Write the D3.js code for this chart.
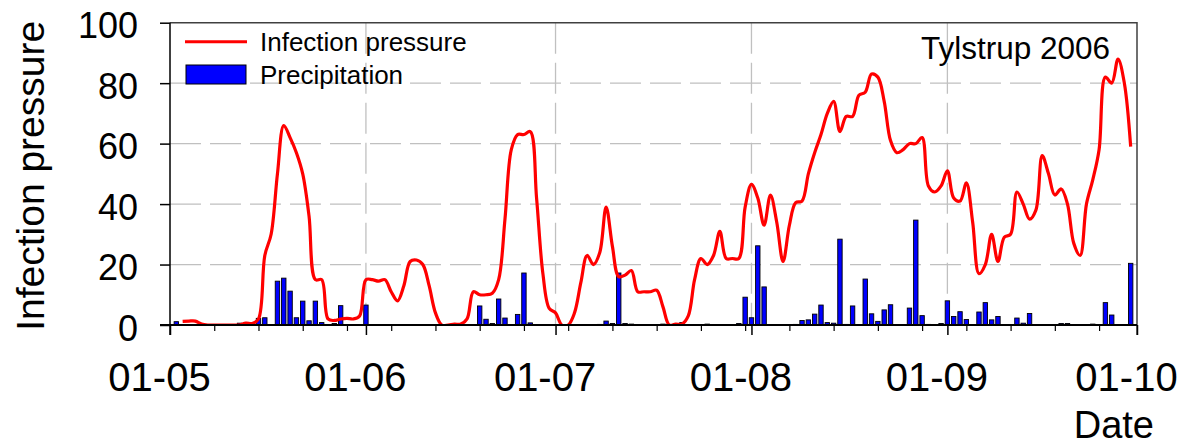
<!DOCTYPE html>
<html>
<head>
<meta charset="utf-8">
<script src="https://cdn.jsdelivr.net/npm/d3@7"></script>
<style>
  html, body { margin: 0; padding: 0; background: #fff; }
  svg { display: block; font-family: "Liberation Sans", Arial, sans-serif; }
</style>
</head>
<body>
<svg id="chart" width="1180" height="447"></svg>
<script>
// Infection pressure, daily values from 3 May to 30 Sep 2006
const pressureStart = "2006-05-03";
const pressure = [
  1.2, 1.3, 1.3, 0.3, 0, 0, 0, 0, 0, 0, 0.6, 0.5, 2, 23, 30, 50, 66, 62, 57, 50,
  36, 15, 15, 2, 1.5, 2, 2.2, 2, 3, 15, 15, 14.5, 15, 11, 8, 13, 21, 21.5, 20, 13,
  4, 0, 0, 0.3, 0.3, 2, 11, 10, 10, 10.5, 15, 35, 58, 63, 63, 64, 42, 17, 5.5, 4,
  0, 0, 4, 14, 23, 20, 24, 39, 26, 16, 16.5, 18, 11, 11, 11, 11.5, 6, 0, 0.3, 0.3,
  3, 15, 22, 20, 23, 31, 22, 22, 22, 39, 46.5, 42, 33, 43, 34, 21, 33, 40.5, 41, 50,
  57, 63, 70, 74, 64, 69, 69, 76, 77, 83, 82, 74, 61, 57, 58, 60, 60, 62, 46, 44,
  46, 51, 42, 41, 47, 34, 17, 20, 30, 21, 29, 30, 44, 40, 35, 38, 56, 50, 43, 45,
  40, 27, 23, 40, 48, 58, 82, 80, 88, 80, 59
];

// Daily precipitation (days with rain only)
const rainDates = [
  "2006-05-02", "2006-05-12", "2006-05-15", "2006-05-16", "2006-05-18", "2006-05-19",
  "2006-05-20", "2006-05-21", "2006-05-22", "2006-05-23", "2006-05-24", "2006-05-25",
  "2006-05-27", "2006-05-28", "2006-06-01", "2006-06-19", "2006-06-20", "2006-06-21",
  "2006-06-22", "2006-06-23", "2006-06-25", "2006-06-26", "2006-06-27", "2006-07-08",
  "2006-07-09", "2006-07-10", "2006-07-11", "2006-07-12", "2006-07-13", "2006-07-18",
  "2006-07-21", "2006-07-25", "2006-07-30", "2006-07-31", "2006-08-01", "2006-08-02",
  "2006-08-03", "2006-08-08", "2006-08-09", "2006-08-10", "2006-08-11", "2006-08-12",
  "2006-08-13", "2006-08-14", "2006-08-15", "2006-08-16", "2006-08-17", "2006-08-19",
  "2006-08-20", "2006-08-21", "2006-08-22", "2006-08-23", "2006-08-26", "2006-08-27",
  "2006-08-28", "2006-08-29", "2006-08-31", "2006-09-01", "2006-09-02", "2006-09-03",
  "2006-09-04", "2006-09-06", "2006-09-07", "2006-09-08", "2006-09-09", "2006-09-12",
  "2006-09-13", "2006-09-14", "2006-09-19", "2006-09-20", "2006-09-24", "2006-09-26",
  "2006-09-27", "2006-09-30"
];
const rainValues = [
  1.1, 0.6, 2.2, 2.4, 14.5, 15.5,
  11.2, 2.4, 7.9, 1.4, 7.9, 0.8,
  0.5, 6.4, 6.6, 6.3, 1.9, 0.5,
  8.6, 2.3, 3.5, 17.2, 0.7, 0.2,
  1.3, 0.5, 17.2, 0.5, 0.3, 0.3,
  0.8, 0.3, 0.5, 9.2, 2.4, 26.2,
  12.6, 0.2, 1.5, 1.7, 3.6, 6.6,
  0.8, 0.6, 28.4, 0.2, 6.3, 15.2,
  3.7, 1.2, 5, 6.7, 5.6, 34.7,
  3.1, 0.2, 0.5, 8, 2.8, 4.4,
  1.8, 4.3, 7.4, 1.7, 2.8, 2.3,
  0.6, 3.8, 0.5, 0.5, 0.3, 7.4,
  3.3, 20.4
];

const xDomain = ["2006-05-01", "2006-10-01"];
const monthTicks = ["2006-05-01", "2006-06-01", "2006-07-01", "2006-08-01", "2006-09-01", "2006-10-01"];
const yTicks = [0, 20, 40, 60, 80, 100];
const yGridTicks = [20, 40, 60, 80];

const parse = d3.utcParse("%Y-%m-%d");
const fmt = d3.utcFormat("%d-%m");

const svg = d3.select("#chart");
const plotL = 170, plotR = 1137, plotT = 22.7, plotB = 325;

const x = d3.scaleUtc().domain(xDomain.map(parse)).range([plotL, plotR]);
const y = d3.scaleLinear().domain([0, 100]).range([plotB, plotT]);

const t0 = parse(pressureStart);
const pressureData = pressure.map((v, i) => ({ date: d3.utcDay.offset(t0, i), value: v }));
const rainData = rainDates.map((d, i) => ({ date: parse(d), value: rainValues[i] }));

svg.append("defs").append("clipPath").attr("id", "plotClip")
  .append("rect").attr("x", plotL).attr("y", plotT).attr("width", plotR - plotL).attr("height", plotB - plotT);

// grid
const grid = svg.append("g").attr("stroke", "#c0c0c0").attr("stroke-width", 1.3).attr("stroke-dasharray", "31 9");
grid.selectAll("line.h").data(yGridTicks).join("line").attr("class", "h")
  .attr("x1", plotL).attr("x2", plotR).attr("y1", d => y(d)).attr("y2", d => y(d));
grid.selectAll("line.v").data(monthTicks.slice(1, -1).map(parse)).join("line").attr("class", "v")
  .attr("x1", d => x(d)).attr("x2", d => x(d)).attr("y1", plotT).attr("y2", plotB);

// frame (top and right)
svg.append("path")
  .attr("d", `M${plotL},${plotT}H${plotR}V${plotB + 10}`)
  .attr("fill", "none").attr("stroke", "#404040").attr("stroke-width", 1.5);

// precipitation bars
const barW = 4.4;
svg.append("g").attr("clip-path", "url(#plotClip)")
  .selectAll("rect").data(rainData).join("rect")
  .attr("x", d => x(d.date) - barW / 2)
  .attr("y", d => y(d.value))
  .attr("width", barW)
  .attr("height", d => y(0) - y(d.value))
  .attr("fill", "#0000ff")
  .attr("stroke", "#000")
  .attr("stroke-width", 0.9);

// infection pressure line
const line = d3.line()
  .x(d => x(d.date))
  .y(d => y(d.value))
  .curve(d3.curveCatmullRom.alpha(0.5));
svg.append("path")
  .datum(pressureData)
  .attr("clip-path", "url(#plotClip)")
  .attr("d", line)
  .attr("fill", "none")
  .attr("stroke", "#ff0000")
  .attr("stroke-width", 3.2)
  .attr("stroke-linejoin", "round");

// x axis: weekly minor ticks, monthly major ticks
const xMinor = d3.axisBottom(x)
  .tickValues(d3.utcMonday.range(parse("2006-05-02"), parse("2006-09-30")))
  .tickSize(6).tickFormat("");
const gxMinor = svg.append("g").attr("transform", `translate(0,${plotB})`).call(xMinor);
gxMinor.select(".domain").remove();
gxMinor.selectAll("line").attr("stroke", "#000").attr("stroke-width", 1.2);

const xMajor = d3.axisBottom(x)
  .tickValues(monthTicks.map(parse))
  .tickSize(10).tickPadding(4).tickFormat(fmt);
const gx = svg.append("g").attr("transform", `translate(0,${plotB})`).call(xMajor);
gx.select(".domain").remove();
gx.selectAll("line").attr("stroke", "#000").attr("stroke-width", 1.5);
gx.selectAll("text")
  .attr("font-size", 40).attr("fill", "#000")
  .attr("dx", -11).attr("y", 66).attr("dy", 0);

// y axis
const yAxis = d3.axisLeft(y).tickValues(yTicks).tickSize(10).tickPadding(22);
const gy = svg.append("g").attr("transform", `translate(${plotL},0)`).call(yAxis);
gy.select(".domain").remove();
gy.selectAll("line").attr("stroke", "#000").attr("stroke-width", 1.5);
gy.selectAll("text").attr("font-size", 36).attr("fill", "#000").attr("dy", "0.42em");

// axis lines
svg.append("line").attr("x1", plotL).attr("x2", plotL).attr("y1", plotT).attr("y2", plotB + 10)
  .attr("stroke", "#000").attr("stroke-width", 1.5);
svg.append("line").attr("x1", plotL - 10).attr("x2", plotR).attr("y1", plotB).attr("y2", plotB)
  .attr("stroke", "#000").attr("stroke-width", 2);

// axis titles
svg.append("text")
  .attr("transform", `translate(44,${(plotT + plotB) / 2 + 2}) rotate(-90)`)
  .attr("text-anchor", "middle").attr("font-size", 39).attr("fill", "#000")
  .text("Infection pressure");
svg.append("text")
  .attr("x", 1154).attr("y", 438).attr("text-anchor", "end")
  .attr("font-size", 38).attr("fill", "#000")
  .text("Date");

// site label
svg.append("text")
  .attr("x", 1110).attr("y", 59).attr("text-anchor", "end")
  .attr("font-size", 31.5).attr("fill", "#000")
  .text("Tylstrup 2006");

// legend
const lg = svg.append("g");
lg.append("line").attr("x1", 185).attr("x2", 247).attr("y1", 41.7).attr("y2", 41.7)
  .attr("stroke", "#ff0000").attr("stroke-width", 3);
lg.append("text").attr("x", 260).attr("y", 51).attr("font-size", 26).attr("fill", "#000")
  .text("Infection pressure");
lg.append("rect").attr("x", 186).attr("y", 65).attr("width", 60).attr("height", 19)
  .attr("fill", "#0000ff").attr("stroke", "#000").attr("stroke-width", 1);
lg.append("text").attr("x", 260).attr("y", 84).attr("font-size", 26).attr("fill", "#000")
  .text("Precipitation");
</script>
</body>
</html>
